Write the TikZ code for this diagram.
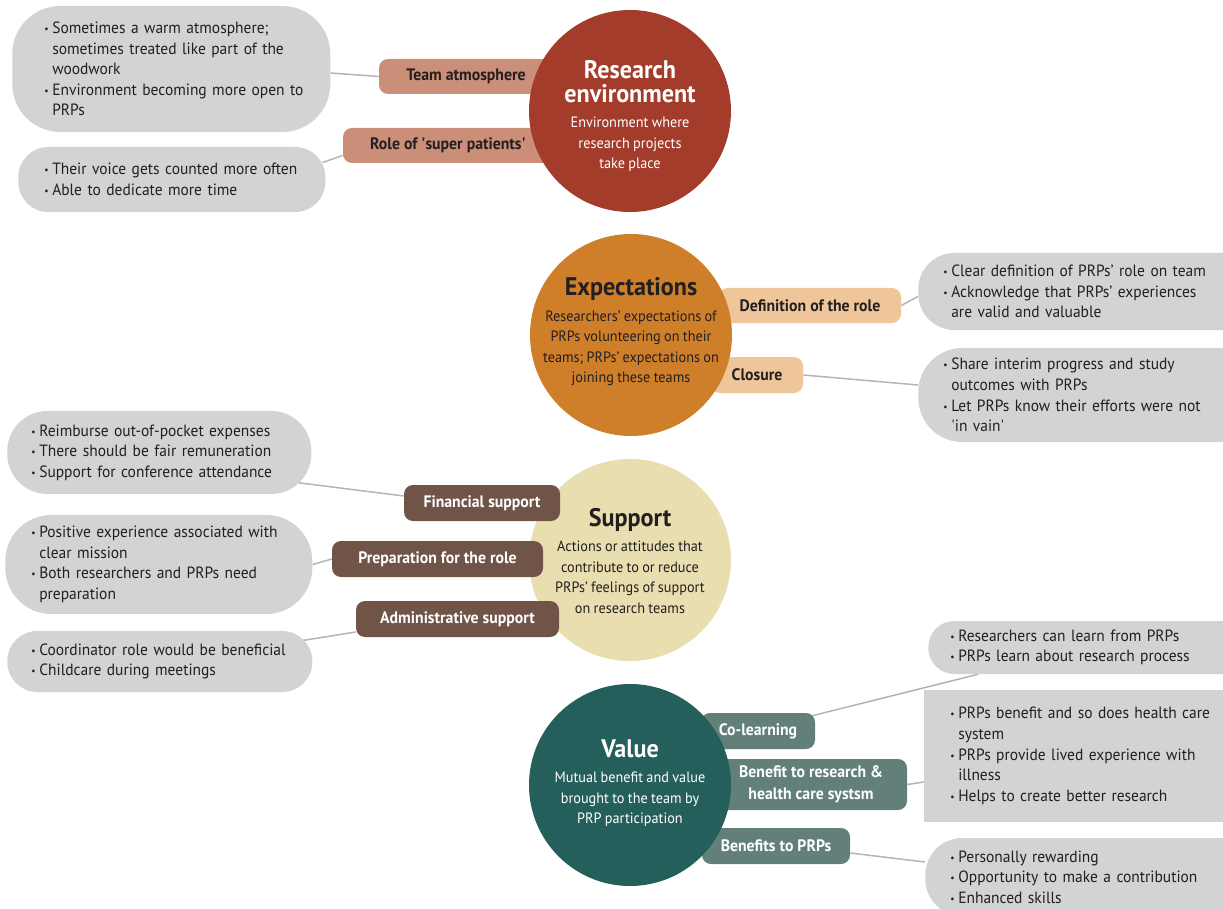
\documentclass[tikz,border=0pt]{standalone}
\usepackage{fontspec}
\setmainfont{PT Sans}[FakeStretch=0.95]
\usetikzlibrary{calc}
\pgfdeclarelayer{back}
\pgfsetlayers{back,main}

\definecolor{envred}{HTML}{A43C2C}
\definecolor{expor}{HTML}{CF7E2A}
\definecolor{supbeige}{HTML}{E8DEB0}
\definecolor{valteal}{HTML}{245F5B}
\definecolor{labsalmon}{HTML}{CB8E79}
\definecolor{labpeach}{HTML}{EEC69A}
\definecolor{labbrown}{HTML}{6F5447}
\definecolor{labteal}{HTML}{628079}
\definecolor{boxgrey}{HTML}{D1D3D4}
\definecolor{linegrey}{HTML}{B3B4B6}
\definecolor{ink}{HTML}{231F20}

\newcommand{\bl}[1]{\mbox{\makebox[8pt][l]{\raisebox{1pt}{\fontsize{10}{10}\selectfont •}}#1}}
\newcommand{\cl}[1]{\mbox{\hspace*{8pt}#1}}
\newcommand{\titlefont}{\fontsize{25.4}{24}\selectfont\bfseries}
\newcommand{\descfont}{\fontsize{15}{20.5}\selectfont\mdseries}

\begin{document}
\begin{tikzpicture}[x=1pt,y=-1pt,semithick]
  \tikzstyle{circ}=[circle,minimum size=202pt,inner sep=0pt]
  \tikzstyle{ctext}=[align=center,text width=185pt,inner sep=0pt]
  \tikzstyle{lab}=[rectangle,rounded corners=9pt,minimum height=35pt,inner sep=0pt,align=center,
                   font=\fontsize{16.6}{22}\selectfont\bfseries]
  \tikzstyle{grey}=[rectangle,fill=boxgrey,anchor=west,align=left,inner ysep=0pt,
                    font=\fontsize{16.3}{20.6}\selectfont,text=ink]
  \tikzstyle{conn}=[draw=linegrey,line width=1.5pt]

  \useasboundingbox (0,0) rectangle (1223,909);
  \clip (0,0) rectangle (1223,909);

  % grey boxes
  \node[grey,inner xsep=32pt,text width=254pt,minimum height=126pt,rounded corners=48pt] (b1) at (12,69)
    {\bl{Sometimes a warm atmosphere;}\\\cl{sometimes treated like part of the}\\\cl{woodwork}\\
     \bl{Environment becoming more open to}\\\cl{PRPs}};
  \node[grey,inner xsep=26pt,text width=255pt,minimum height=65pt,rounded corners=30pt] (b2) at (18,179.5)
    {\bl{Their voice gets counted more often}\\\bl{Able to dedicate more time}};
  \node[grey,inner xsep=25pt,text width=292pt,minimum height=77pt,rounded corners=36pt] (b3) at (918,291.5)
    {\bl{Clear definition of PRPs’ role on team}\\\bl{Acknowledge that PRPs’ experiences}\\\cl{are valid and valuable}};
  \node[grey,inner xsep=25pt,text width=292pt,minimum height=94pt,rounded corners=44pt] (b4) at (918,395)
    {\bl{Share interim progress and study}\\\cl{outcomes with PRPs}\\
     \bl{Let PRPs know their efforts were not}\\\cl{\textquotesingle in vain\textquotesingle}};
  \node[grey,inner xsep=24pt,text width=256pt,minimum height=83pt,rounded corners=40pt] (b5) at (7,452.5)
    {\bl{Reimburse out-of-pocket expenses}\\\bl{There should be fair remuneration}\\\bl{Support for conference attendance}};
  \node[grey,inner xsep=26pt,text width=255pt,minimum height=99pt,rounded corners=46pt] (b6) at (5,564.5)
    {\bl{Positive experience associated with}\\\cl{clear mission}\\
     \bl{Both researchers and PRPs need}\\\cl{preparation}};
  \node[grey,inner xsep=24pt,text width=257pt,minimum height=61pt,rounded corners=30pt] (b7) at (7,661.5)
    {\bl{Coordinator role would be beneficial}\\\bl{Childcare during meetings}};
  \node[grey,inner xsep=22pt,text width=288pt,minimum height=53pt,rounded corners=26pt] (b8) at (928,647.5)
    {\bl{Researchers can learn from PRPs}\\\bl{PRPs learn about research process}};
  \node[grey,inner xsep=26pt,text width=284pt,minimum height=132pt] (b9) at (924,756)
    {\bl{PRPs benefit and so does health care}\\\cl{system}\\
     \bl{PRPs provide lived experience with}\\\cl{illness}\\\bl{Helps to create better research}};
  \node[grey,inner xsep=25pt,text width=285pt,minimum height=78pt,rounded corners=37pt] (b10) at (925,877)
    {\bl{Personally rewarding}\\\bl{Opportunity to make a contribution}\\\bl{Enhanced skills}};

  % research environment
  \node[lab,fill=labsalmon,text=ink,minimum width=174pt] (team) at (466,76.5) {Team atmosphere};
  \node[lab,fill=labsalmon,text=ink,minimum width=210pt] (role) at (448,145.5)
    {Role of \textquotesingle super patients\textquotesingle};
  \node[circ,fill=envred] (env) at (630,111) {};
  \node[ctext,text=white] (envtxt) at (630,116)
    {\titlefont Research\\environment\par\vspace{5pt}\descfont Environment where\\research projects\\take place\par};

  % expectations
  \node[lab,fill=labpeach,text=ink,minimum width=182pt] (defn) at (810,305.5) {Definition of the role};
  \node[lab,fill=labpeach,text=ink,minimum width=92pt,minimum height=36pt] (closure) at (757,375) {Closure};
  \node[circ,fill=expor] (exp) at (631,335) {};
  \node[ctext,text=ink] (exptxt) at (631,332)
    {\titlefont Expectations\par\vspace{5pt}\descfont Researchers’ expectations of\\PRPs volunteering on their\\
     teams; PRPs’ expectations on\\joining these teams\par};

  % support
  \node[circ,fill=supbeige] (sup) at (630,560) {};
  \node[ctext,text=ink] (suptxt) at (630,561)
    {\titlefont Support\par\vspace{5pt}\descfont Actions or attitudes that\\contribute to or reduce\\
     PRPs’ feelings of support\\on research teams\par};
  \node[lab,fill=labbrown,text=white,minimum width=156pt,minimum height=36pt] (fin) at (482,503) {Financial support};
  \node[lab,fill=labbrown,text=white,minimum width=211pt,minimum height=36pt] (prep) at (437.5,559) {Preparation for the role};
  \node[lab,fill=labbrown,text=white,minimum width=203pt,minimum height=36pt] (admin) at (457.5,619) {Administrative support};

  % value
  \node[lab,fill=labteal,text=white,minimum width=114pt,minimum height=36pt] (colearn) at (758,731) {Co-learning};
  \node[lab,fill=labteal,text=white,minimum width=192pt,minimum height=51pt] (benefit) at (811,784.5)
    {Benefit to research \&\\health care systsm};
  \node[lab,fill=labteal,text=white,minimum width=148pt,minimum height=36pt] (prps) at (776,846) {Benefits to PRPs};
  \node[circ,fill=valteal] (val) at (630,785) {};
  \node[ctext,text=white] (valtxt) at (630,783)
    {\titlefont Value\par\vspace{5pt}\descfont Mutual benefit and value\\brought to the team by\\PRP participation\par};

  % connectors, behind everything
  \begin{pgfonlayer}{back}
  \path[conn] ($(b1.east)+(0,4)$) -- (team.west);
  \path[conn] ($(b2.east)+(-3,-17)$) -- ($(role.west)+(0,10)$);
  \path[conn] (defn.east) -- ($(b3.west)+(0,5)$);
  \path[conn] (closure.east) -- ($(b4.west)+(0,-10)$);
  \path[conn] ($(b5.east)+(-15,30)$) -- ($(fin.west)+(0,-7)$);
  \path[conn] (b6.east) -- (prep.west);
  \path[conn] ($(b7.east)+(-10,-21)$) -- ($(admin.west)+(0,13)$);
  \path[conn] ($(colearn.north east)+(-3,3)$) -- ($(b8.south west)+(50,0)$);
  \path[conn] (benefit.east) -- ($(b9.west)+(0,26)$);
  \path[conn] ($(prps.east)+(0,7)$) -- ($(b10.west)+(0,-15)$);
  \end{pgfonlayer}

\end{tikzpicture}
\end{document}
